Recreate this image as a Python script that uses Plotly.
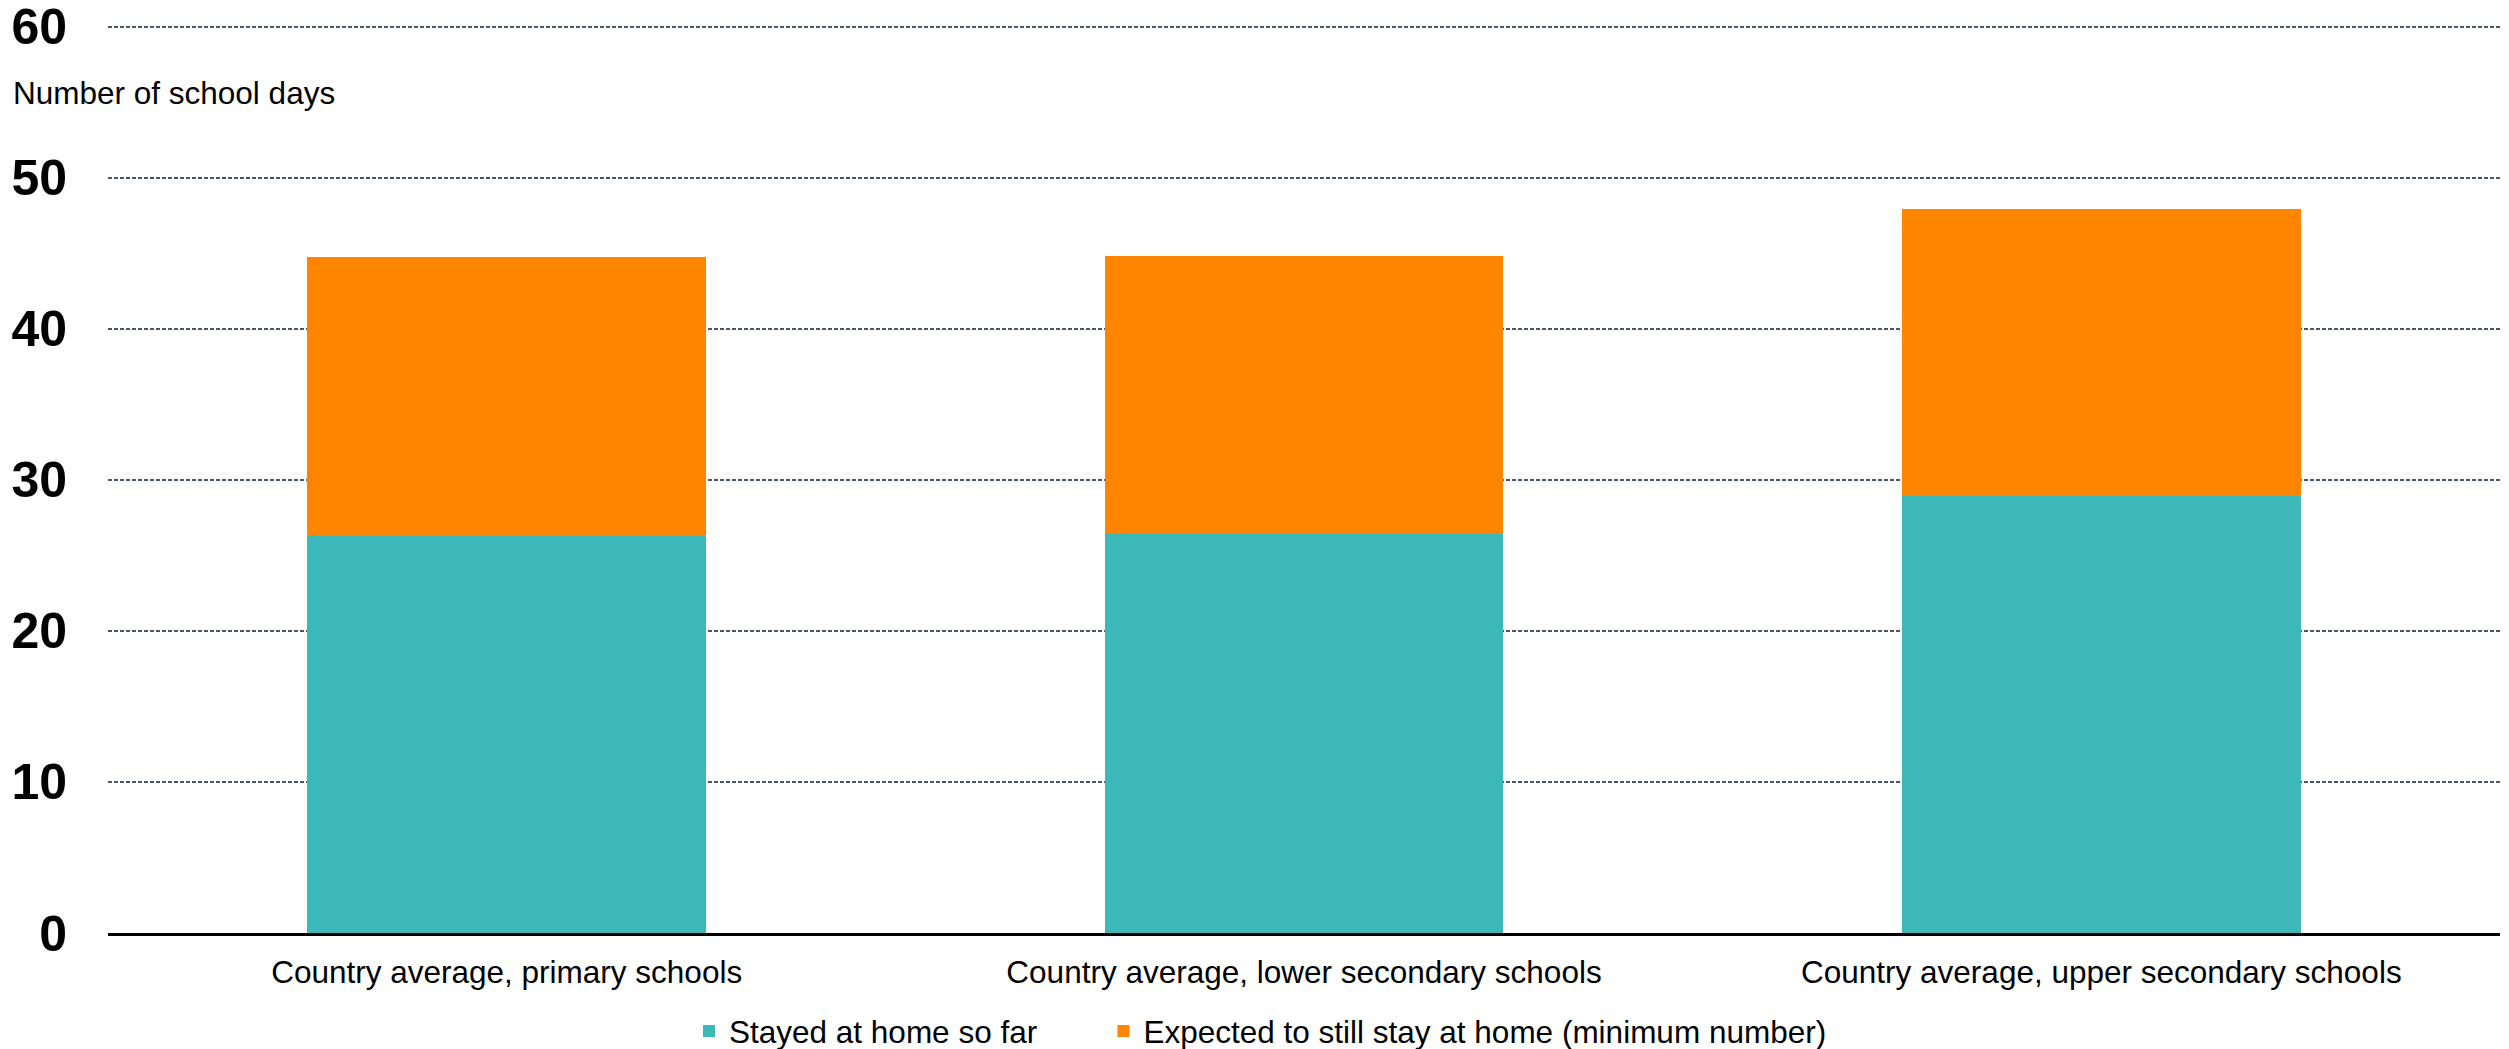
import plotly.graph_objects as go

categories = ["Country average, primary schools",
              "Country average, lower secondary schools",
              "Country average, upper secondary schools"]
stayed_home = [26.3, 26.4, 28.9]
expected_more = [18.45, 18.4, 19.05]
series_names = ["Stayed at home so far", "Expected to still stay at home (minimum number)"]
y_ticks = [0, 10, 20, 30, 40, 50, 60]

TEAL = "#3DB8B9"
ORANGE = "#FF8500"
FONT = "Arial, Liberation Sans, sans-serif"
NBSP = "\u00a0"

W, H = 2509, 1049
L, R = 108, 9
PLOT_BOTTOM = 933
PX_PER_UNIT = (933 - 27) / 60.0
Y_MAX = 60.3  # slightly above 60 so the top gridline is kept
T = PLOT_BOTTOM - Y_MAX * PX_PER_UNIT
B = H - PLOT_BOTTOM
PW, PH = W - L - R, PLOT_BOTTOM - T

fig = go.Figure()
fig.add_trace(go.Bar(x=categories, y=stayed_home, name=series_names[0] + NBSP * 7,
                     marker=dict(color=TEAL, line=dict(width=0))))
fig.add_trace(go.Bar(x=categories, y=expected_more, name=series_names[1],
                     marker=dict(color=ORANGE, line=dict(width=0))))

fig.update_layout(
    barmode="stack",
    bargap=0.5,
    width=W, height=H,
    margin=dict(l=L, r=R, t=T, b=B, autoexpand=False),
    plot_bgcolor="white", paper_bgcolor="white",
    font=dict(family=FONT, color="black", size=31.5),
    showlegend=True,
    legend=dict(orientation="h", x=(709 - 20 - L) / PW, xanchor="left",
                y=-(1031 - PLOT_BOTTOM) / PH, yanchor="middle",
                font=dict(size=31.5), traceorder="normal",
                bgcolor="rgba(0,0,0,0)"),
    annotations=[dict(text="Number of school days", xref="paper", yref="paper",
                      x=(11 - L) / PW, y=(PLOT_BOTTOM - 93) / PH,
                      xanchor="left", yanchor="middle", showarrow=False,
                      font=dict(size=31.5, family=FONT, color="black"))],
)
fig.update_xaxes(showline=True, linecolor="black", linewidth=3, showgrid=False,
                 ticks="", ticklabelstandoff=9, automargin=False,
                 tickfont=dict(size=31.5, family=FONT, color="black"))
fig.update_yaxes(range=[0, Y_MAX], tickvals=y_ticks, showline=False, zeroline=False,
                 showgrid=True, gridcolor="#4B5669", gridwidth=2, griddash="4px,2px",
                 ticks="", ticklabelstandoff=40, automargin=False,
                 ticklabeloverflow="allow",
                 tickfont=dict(size=50, family=FONT, color="black", weight="bold"))

fig.write_html("out.html",
               config={"displayModeBar": False},
               post_script="document.body.style.margin='0';document.body.style.overflow='hidden';")
